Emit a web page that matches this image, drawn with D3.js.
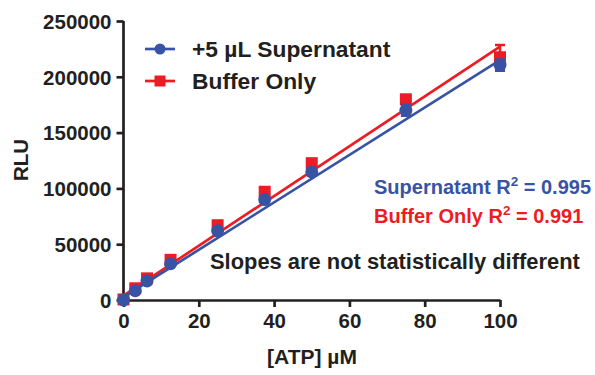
<!DOCTYPE html>
<html>
<head>
<meta charset="utf-8">
<script src="https://cdn.jsdelivr.net/npm/d3@7"></script>
<style>
  body { margin: 0; background: #fff; }
  text { font-family: "Liberation Sans", Arial, sans-serif; font-weight: bold; }
</style>
</head>
<body>
<div id="chart"></div>
<script>
// data
var atp = [0, 3.125, 6.25, 12.5, 25, 37.5, 50, 75, 100];
var supernatant = [0, 8300, 17000, 32500, 62000, 90000, 114800, 170000, 210500];
var supernatantErr = [0, 1000, 1000, 1500, 2000, 2500, 3000, 5000, 5000];
var buffer = [500, 10500, 19400, 36000, 67000, 97000, 122600, 179800, 217500];
var bufferErr = [0, 1000, 1000, 1500, 2000, 3000, 3000, 4000, 11000];
// fitted lines: [intercept, slope]
var supernatantFit = [2500, 2125];
var bufferFit = [4000, 2230];

var xTicks = [0, 20, 40, 60, 80, 100];
var yTicks = [0, 50000, 100000, 150000, 200000, 250000];

var svgWidth = 595;
var svgHeight = 375;
var blue = "#3953a4";
var red = "#ed1c24";
var ink = "#231f20";

var svg = d3.select("#chart")
  .append("svg")
  .attr("width", svgWidth)
  .attr("height", svgHeight);

var x = d3.scaleLinear().domain([0, 100]).range([123.5, 500]);
var y = d3.scaleLinear().domain([0, 250000]).range([300, 21]);

// axes
var xAxis = svg.append("g")
  .attr("transform", "translate(0,300)")
  .call(d3.axisBottom(x).tickValues(xTicks).tickSize(7).tickSizeOuter(0).tickPadding(6));

var yAxis = svg.append("g")
  .attr("transform", "translate(123.5,0)")
  .call(d3.axisLeft(y).tickValues(yTicks).tickFormat(d3.format("d")).tickSize(7).tickSizeOuter(0).tickPadding(5));

[xAxis, yAxis].forEach(function(g) {
  g.select(".domain").attr("stroke", ink).attr("stroke-width", 2.7);
  g.selectAll(".tick line").attr("stroke", ink).attr("stroke-width", 2.7);
  g.selectAll(".tick text")
    .attr("fill", ink)
    .style("font-size", "20.5px")
    .style("font-family", "'Liberation Sans', Arial, sans-serif")
    .style("font-weight", "bold");
});
yAxis.select(".domain").attr("d", "M0,21V301.3");
xAxis.selectAll(".tick text").attr("dy", "0.71em");
yAxis.selectAll(".tick text").attr("dy", "0.36em");

// axis titles
svg.append("text")
  .attr("x", 312).attr("y", 364)
  .attr("text-anchor", "middle")
  .attr("fill", ink)
  .style("font-size", "21px")
  .text("[ATP] µM");

svg.append("text")
  .attr("transform", "translate(28,160) rotate(-90)")
  .attr("text-anchor", "middle")
  .attr("fill", ink)
  .style("font-size", "20.5px")
  .text("RLU");

// one series: fit line, error bars, markers
function drawSeries(values, errs, fit, color, shape) {
  var g = svg.append("g");
  g.append("line")
    .attr("x1", x(0)).attr("y1", y(fit[0]))
    .attr("x2", x(100)).attr("y2", y(fit[0] + fit[1] * 100))
    .attr("stroke", color).attr("stroke-width", 2.7);

  var pts = atp.map(function(a, i) { return {x: a, y: values[i], e: errs[i]}; });

  g.selectAll(".err").data(pts.filter(function(d) { return d.e > 0; }))
    .enter().append("path")
    .attr("d", function(d) {
      var cx = x(d.x), t = y(d.y + d.e), b = y(d.y - d.e);
      return "M" + cx + "," + b + "V" + t + "M" + (cx - 5) + "," + t + "H" + (cx + 5) +
        "M" + (cx - 5) + "," + b + "H" + (cx + 5);
    })
    .attr("stroke", color).attr("stroke-width", 2.5).attr("fill", "none");

  if (shape == "circle") {
    g.selectAll(".pt").data(pts).enter().append("circle")
      .attr("cx", d => x(d.x)).attr("cy", d => y(d.y))
      .attr("r", 6.5).attr("fill", color);
  } else {
    g.selectAll(".pt").data(pts).enter().append("rect")
      .attr("x", d => x(d.x) - 6).attr("y", d => y(d.y) - 6)
      .attr("width", 12).attr("height", 12).attr("fill", color);
  }
}

drawSeries(buffer, bufferErr, bufferFit, red, "square");
drawSeries(supernatant, supernatantErr, supernatantFit, blue, "circle");

// legend
var legend = svg.append("g");
legend.append("line").attr("x1", 145).attr("x2", 175).attr("y1", 49).attr("y2", 49)
  .attr("stroke", blue).attr("stroke-width", 2.7);
legend.append("circle").attr("cx", 160).attr("cy", 49).attr("r", 5.5).attr("fill", blue);
legend.append("line").attr("x1", 145).attr("x2", 175).attr("y1", 81).attr("y2", 81)
  .attr("stroke", red).attr("stroke-width", 2.7);
legend.append("rect").attr("x", 154.5).attr("y", 75.5).attr("width", 11).attr("height", 11).attr("fill", red);

legend.append("text").attr("x", 192).attr("y", 57)
  .attr("fill", ink).style("font-size", "22.8px").text("+5 µL Supernatant");
legend.append("text").attr("x", 192).attr("y", 89)
  .attr("fill", ink).style("font-size", "22.8px").text("Buffer Only");

// annotations
function r2Label(label, value, color, yPos) {
  var t = svg.append("text").attr("x", 374).attr("y", yPos)
    .attr("fill", color).style("font-size", "20px");
  t.append("tspan").text(label + " R");
  t.append("tspan").attr("dy", -8.5).style("font-size", "13.5px").text("2");
  t.append("tspan").attr("dy", 8.5).text(" = " + value);
}
r2Label("Supernatant", "0.995", blue, 194);
r2Label("Buffer Only", "0.991", red, 223);

svg.append("text").attr("x", 210).attr("y", 269)
  .attr("fill", ink).style("font-size", "21.9px")
  .text("Slopes are not statistically different");
</script>
</body>
</html>
